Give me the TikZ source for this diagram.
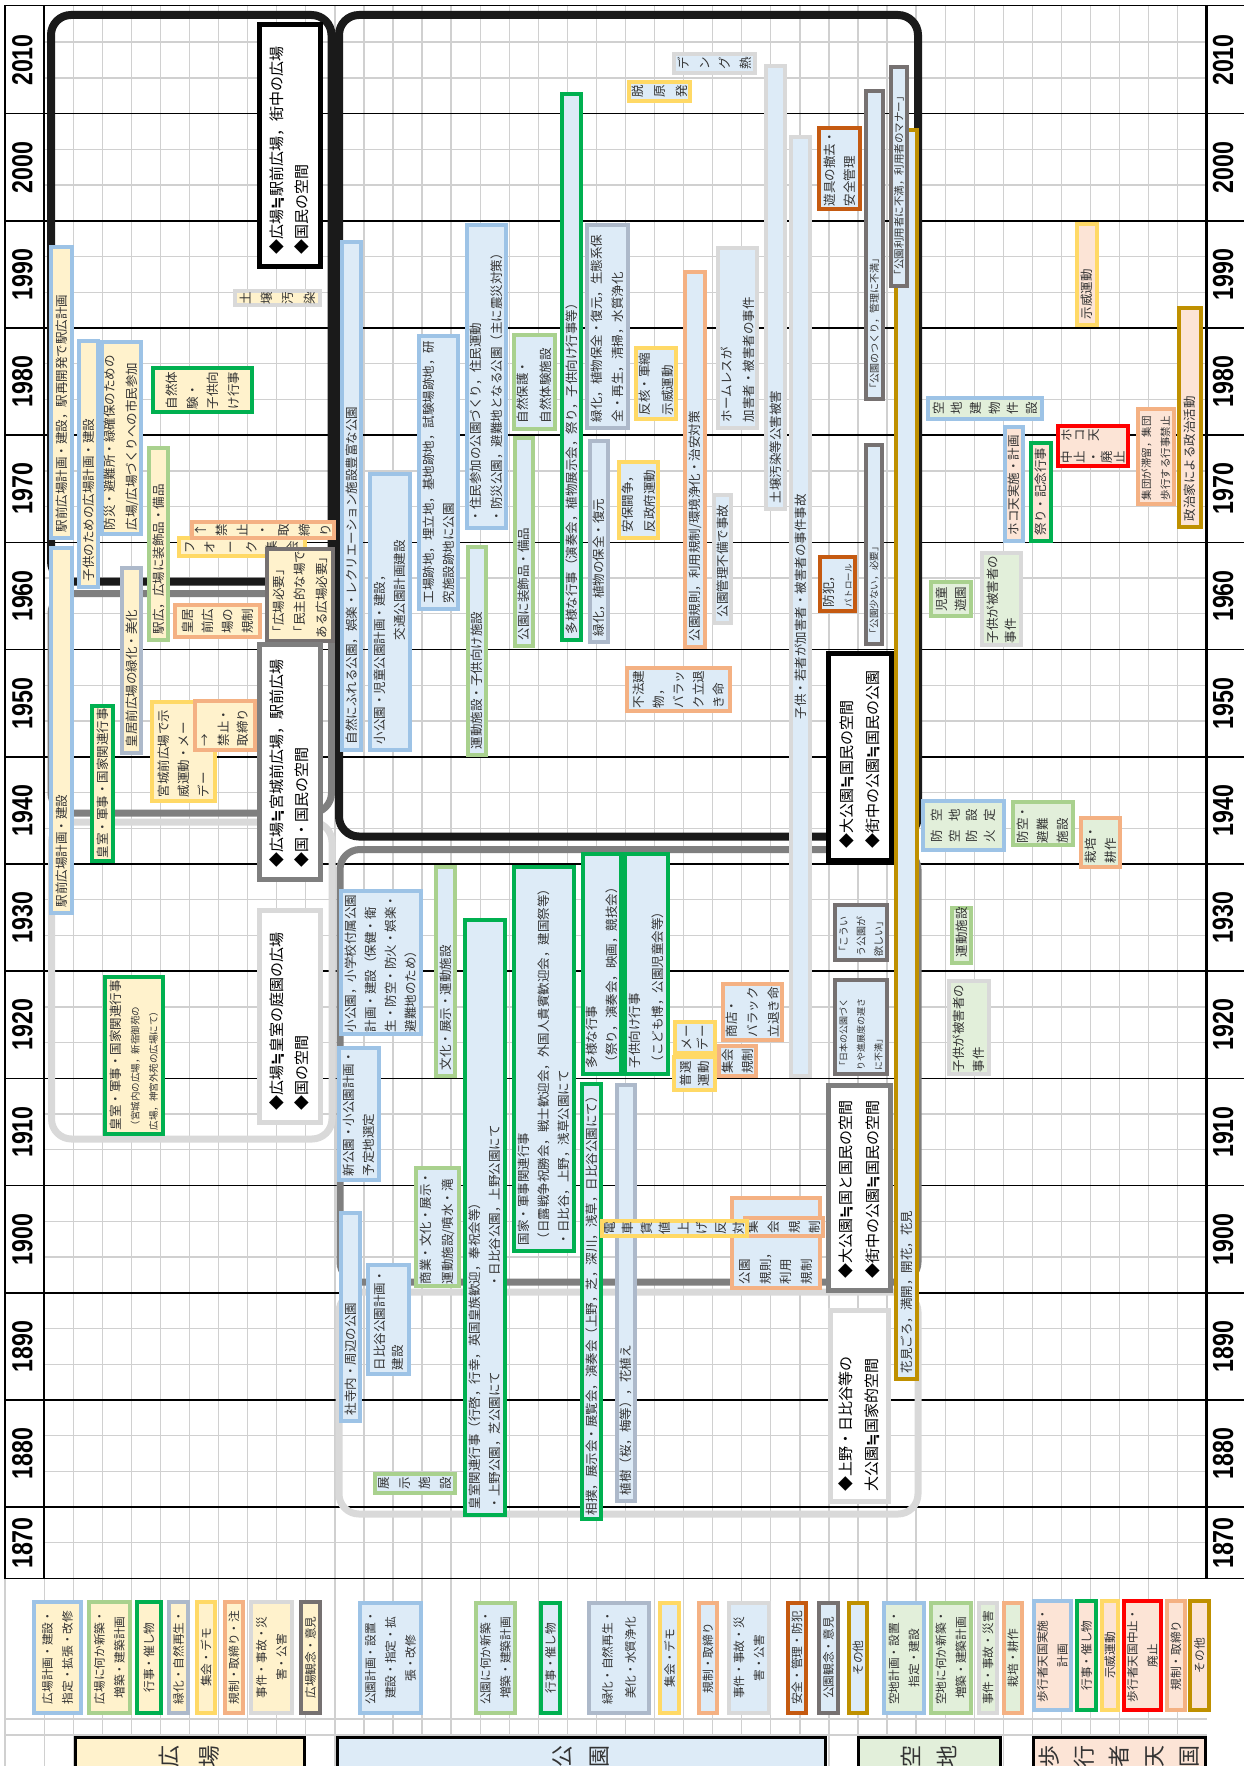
\documentclass[tikz,border=0pt]{standalone}
\usepackage{fontspec}
\setmainfont{Noto Sans CJK JP}
\newfontfamily\yrfont[FakeStretch=0.8]{Liberation Sans}
\newfontfamily\dvfont{DejaVu Sans}
\newcommand\apx{{\dvfont\bfseries ≒}}
\definecolor{txt}{HTML}{333333}
\definecolor{fillY}{HTML}{FFF2CC}
\definecolor{fillB}{HTML}{DDEBF7}
\definecolor{fillG}{HTML}{E2EFDA}
\definecolor{fillP}{HTML}{FCE4D6}
\definecolor{bPlan}{HTML}{9DC3E6}
\definecolor{bNew}{HTML}{A9D18E}
\definecolor{bEvt}{HTML}{00B050}
\definecolor{bGrn}{HTML}{ADB9CA}
\definecolor{bDemo}{HTML}{FFD966}
\definecolor{bReg}{HTML}{F4B183}
\definecolor{bInc}{HTML}{D9D9D9}
\definecolor{bOp}{HTML}{767171}
\definecolor{bSafe}{HTML}{C55A11}
\definecolor{bOth}{HTML}{BF9000}
\definecolor{bCan}{HTML}{FF0000}
\definecolor{colFrK}{HTML}{1A1A1A}
\definecolor{colFrD}{HTML}{7F7F7F}
\definecolor{colFrL}{HTML}{D9D9D9}
\definecolor{gridc}{HTML}{D0D0D0}
\tikzset{
  bxs/.style={draw, line width=4.5pt, inner ysep=1pt, text=txt, align=left, font=\fontsize{12.5}{21}\selectfont},
  ls/.style={font=\fontsize{12.5}{#1}\selectfont},
  fs/.style 2 args={font=\fontsize{#1}{#2}\selectfont},
  fY/.style={fill=fillY}, fB/.style={fill=fillB}, fG/.style={fill=fillG}, fP/.style={fill=fillP},
  cPlan/.style={draw=bPlan}, cNew/.style={draw=bNew}, cEvt/.style={draw=bEvt},
  cGrn/.style={draw=bGrn}, cDemo/.style={draw=bDemo}, cReg/.style={draw=bReg},
  cInc/.style={draw=bInc}, cOp/.style={draw=bOp}, cSafe/.style={draw=bSafe},
  cOth/.style={draw=bOth}, cCan/.style={draw=bCan},
  diaK/.style={draw=black, fill=white, line width=5pt, text=black, font=\fontsize{15}{25}\selectfont},
  diaD/.style={draw=colFrD, fill=white, line width=5pt, text=black, font=\fontsize{15}{25}\selectfont},
  diaL/.style={draw=colFrL, fill=white, line width=5pt, text=black, font=\fontsize{15}{25}\selectfont},
  hdr/.style={draw=black, line width=3pt, font=\fontsize{22}{40}\selectfont},
  leg/.style={font=\fontsize{11.7}{20}\selectfont},
  gridl/.style={draw=gridc, line width=1.3pt},
  decl/.style={draw=black, line width=1.5pt},
  frameK/.style={draw=colFrK, line width=8pt, rounded corners=20pt},
  frameD/.style={draw=colFrD, line width=7pt, rounded corners=20pt},
  frameL/.style={draw=colFrL, line width=7pt, rounded corners=20pt},
  yl/.style={rotate=90, inner sep=0pt, text=black, font=\yrfont\bfseries\fontsize{29}{29}\selectfont},
}
% #1 opts, #2 name, #3 x0, #4 y0, #5 x1, #6 y1, #7 style, #8 pad, #9 text
\newcommand\bxgen[9]{%
  \pgfmathsetmacro\bxW{#6-#4-4}%
  \pgfmathsetmacro\bxH{#5-#3-4}%
  \pgfmathsetmacro\bxT{#6-#4-4-2*#8}%
  \pgfmathsetmacro\bxX{(#3+#5)/2}%
  \pgfmathsetmacro\bxY{(#4+#6)/2}%
  \node[bxs,#7,rotate=90,inner xsep=#8pt,minimum width=\bxW pt,minimum height=\bxH pt,text width=\bxT pt,#1] (#2) at (\bxX,\bxY) {#9};}
\newcommand\bx[8][]{\bxgen{#1}{#2}{#3}{#4}{#5}{#6}{#7}{6}{#8}}
\newcommand\cbx[8][]{\bxgen{align=center,#1}{#2}{#3}{#4}{#5}{#6}{#7}{1}{#8}}
\begin{document}
\begin{tikzpicture}[x=1pt,y=-1pt]
\useasboundingbox (0,0) rectangle (1244,1766);
\clip (0,0) rectangle (1244,1766);
\fill[white] (0,0) rectangle (1244,1766);
% grid
\foreach \i in {1,...,39}{\draw[gridl] ({44.3+29.06*\i},5.4) -- ({44.3+29.06*\i},1766);}
\foreach \j in {1,...,43}{\draw[gridl] (44.3,{6.4+35.73*\j}) -- (1206.7,{6.4+35.73*\j});}
\draw[gridl] (5,1719) -- (1206.7,1719);
\draw[gridl] (5,1735) -- (1206.7,1735);
\draw[gridl] (5,1578.5) -- (5,1766);
\draw[gridl] (44.3,1578.5) -- (44.3,1766);
% decade lines
\foreach \k in {0,...,13}{\draw[decl] (5,{113.6+107.2*\k}) -- (1244,{113.6+107.2*\k});}
\draw[decl] (5,5.4) -- (1244,5.4);
\draw[decl] (5,1578.5) -- (1244,1578.5);
\draw[black,line width=1.8pt] (5,5.4) -- (5,1578.5);
\draw[black,line width=1.8pt] (44.3,5.4) -- (44.3,1578.5);
\draw[black,line width=2.6pt] (1206.7,5.4) -- (1206.7,1578.5);
% frames
\draw[frameK] (51,15) rectangle (331.5,581.5);
\draw[frameD] (51,593.5) rectangle (331.5,813);
\draw[frameL] (51.5,822) rectangle (332,1139);
\draw[frameK] (339,15) rectangle (918,836.5);
\draw[frameD] (340,849.5) rectangle (918,1282);
\draw[frameL] (339,1292) rectangle (918,1514);
% ===== 広場 =====
\bx{a1}{49}{245}{74}{540}{cPlan,fY}{駅前広場計画・建設，駅再開発で駅広計画}
\bx{a2}{49}{546}{74}{915}{cPlan,fY}{駅前広場計画・建設}
\bx{a3}{77}{339}{100}{589}{cPlan,fY}{子供のための広場計画・建設}
\bxgen{ls=21.7}{a4}{100}{340}{143}{536}{cPlan,fY}{4}{防災・避難所・緑確保のための\\広場/広場づくりへの市民参加}
\bx{a5}{147}{446}{170}{642}{cNew,fY}{駅広，広場に装飾品・備品}
\bxgen{ls=20.5}{a6}{151}{366}{254}{414}{cEvt,fY}{3}{自然体\\験・\\子供向\\け行事}
\cbx[ls=21.3]{a7}{233}{289}{322}{307}{cInc,fY}{土\\壌\\汚\\染}
\bxgen{}{a8}{257}{23}{322}{268}{diaK}{12}{◆広場\apx 駅前広場，街中の広場\\◆国民の空間}
\cbx[ls=20.6]{a10}{177}{536}{307}{558}{cDemo,fY}{フ\\オ\\ー\\ク\\集\\会}
\cbx[ls=20.8]{a9}{190}{520}{336}{540}{cReg,fY}{↑\\禁\\止\\・\\取\\締\\り}
\bxgen{ls=21.7}{a11}{265}{547}{335}{643}{cOp,fY}{3}{「広場必要」\\「民主的な場で\\ある広場必要」}
\bx{a12}{120}{566}{143}{755}{cGrn,fY}{皇居前広場の緑化・美化}
\cbx[ls=20]{a13}{173}{603}{262}{639}{cReg,fY}{皇居\\前広\\場の\\規制}
\bxgen{}{a14}{90}{704}{115}{863}{cEvt,fY}{3}{皇室・軍事・国家関連行事}
\bxgen{ls=20}{a15}{150}{700}{217}{803}{cDemo,fY}{4}{宮城前広場で示\\威運動・メー\\デー}
\bxgen{ls=19}{a16}{193}{699}{257}{752}{cReg,fY}{4}{→\\禁止・\\取締り}
\bxgen{}{a17}{257}{642}{322}{881}{diaD}{12}{◆広場\apx 宮城前広場，駅前広場\\◆国・国民の空間}
\bxgen{}{a18}{257}{908}{322}{1124}{diaL}{12}{◆広場\apx 皇室の庭園の広場\\◆国の空間}
\bxgen{ls=18.3}{a19}{103}{975}{165}{1136}{cEvt,fY}{4}{皇室・軍事・国家関連行事\\{\fontsize{9.5}{18.3}\selectfont （宮城内の広場，新宿御苑の}\\{\fontsize{9.5}{18.3}\selectfont 広場，神宮外苑の広場にて）}}
% ===== 公園 =====
\bx{b1}{340}{240}{363}{752}{cPlan,fB}{自然にふれる公園，娯楽・レクリエーション施設豊富な公園}
\bxgen{ls=20}{b2}{368}{472}{412}{752}{cPlan,fB}{6}{小公園・児童公園計画・建設，\\\hspace*{104pt}交通公園計画建設}
\bx[ls=20]{b3}{417}{334}{460}{611}{cPlan,fB}{工場跡地，埋立地，基地跡地，試験場跡地，研\\究施設跡地に公園}
\bx[ls=21.7]{b4}{465}{223}{508}{530}{cPlan,fB}{・住民参加の公園づくり，住民運動\\・防災公園，避難地となる公園（主に震災対策）}
\bx{b5}{513}{436}{535}{648}{cNew,fB}{公園に装飾品・備品}
\bx[ls=23.3]{b6}{512}{333}{557}{431}{cNew,fB}{自然保護・\\自然体験施設}
\bx{b7}{560}{92}{583}{642}{cEvt,fB}{多様な行事（演奏会，植物展示会，祭り，子供向け行事等）}
\bx[ls=21.7]{b8}{585}{223}{630}{430}{cGrn,fB}{緑化，植物保全・復元，生態系保\\全・再生，清掃，水質浄化}
\bx{b9}{588}{439}{610}{644}{cGrn,fB}{緑化，植物の保全・復元}
\bxgen{ls=23.3}{b10}{634}{346}{678}{421}{cDemo,fB}{4}{反核・軍縮\\示威運動}
\bx[ls=21.7]{b11}{617}{460}{660}{540}{cDemo,fB}{安保闘争，\\反政府運動}
\cbx[ls=22]{b12}{627}{80}{692}{103}{cDemo,fB}{脱\\原\\発}
\cbx[ls=20.5]{b13}{672}{52}{757}{75}{cInc,fB}{デ\\ン\\グ\\熱}
\bx{b14}{683}{270}{707}{649}{cReg,fB}{公園規則，利用規制/環境浄化・治安対策}
\bx[ls=21.7]{b15}{716}{246}{759}{430}{cInc,fB}{ホームレスが\\加害者・被害者の事件}
\bx{b16}{764}{64}{787}{511}{cInc,fB}{土壌汚染等公害被害}
\cbx{b17}{789}{135}{812}{1078}{cInc,fB}{子供・若者が加害者・被害者の事件事故}
\bxgen{ls=20}{b18}{817}{126}{862}{211}{cSafe,fB}{3}{遊具の撤去・\\安全管理}
\bx[fs={10}{17}]{b19}{864}{89}{885}{401}{cOp,fB}{「公園のつくり，管理に不満」}
\bx{b20}{894}{128}{919}{1381}{cOth,fB}{花見ごろ，満開，開花，花見}
\bx[fs={10.5}{17}]{b21}{889}{65}{909}{288}{cOp,fB}{「公園利用者に不満，利用者のマナー」}
\bx{b22}{712}{493}{733}{625}{cInc,fB}{公園管理不備で事故}
\bxgen{ls=18}{b23}{818}{555}{857}{613}{cSafe,fB}{4}{防犯，\\{\fontsize{8.5}{18}\selectfont パトロール}}
\bx[fs={9.6}{17}]{b24}{864}{443}{884}{646}{cOp,fB}{「公園少ない，必要」}
\bxgen{fs={15}{26}}{b25}{826}{651}{893}{862}{diaK}{12}{◆大公園\apx 国民の空間\\◆街中の公園\apx 国民の公園}
\bxgen{ls=20}{b26}{625}{666}{732}{713}{cReg,fB}{3}{不法建\\物，\\バラッ\\ク立退\\き命}
\bx{b27}{466}{545}{488}{757}{cNew,fB}{運動施設・子供向け施設}
\bxgen{ls=20}{b28}{339}{889}{423}{1036}{cPlan,fB}{2}{小公園，小学校付属公園\\計画・建設（保健・衛\\生・防空・防火・娯楽・\\避難地のため）}
\bx{b29}{434}{865}{457}{1078}{cNew,fB}{文化・展示・運動施設}
\bxgen{ls=20}{b30}{463}{918}{507}{1517}{cEvt,fB}{6}{皇室関連行事（行啓，行幸，英国皇族歓迎，奉祝会等）\\・上野公園，芝公園にて\hspace{84pt}・日比谷公園，上野公園にて}
\bx[ls=20.3]{b31}{512}{865}{576}{1253}{cEvt,fB}{国家・軍事関連行事\\（日露戦争祝勝会，戦士歓迎会，外国人貴賓歓迎会，建国祭等）\\・日比谷，上野，浅草公園にて}
\bx[ls=20]{b32}{581}{852}{623}{1076}{cEvt,fB}{多様な行事\\（祭り，演奏会，映画，競技会）}
\bx[ls=23.3]{b33}{623}{852}{670}{1076}{cEvt,fB}{子供向け行事\\（こども博，公園児童会等）}
\bxgen{}{b34}{580}{1082}{603}{1521}{cEvt,fB}{4}{相撲，展示会・展覧会，演奏会（上野，芝，深川，浅草，日比谷公園にて）}
\bx{b35}{615}{1083}{637}{1503}{cGrn,fB}{植樹（桜，梅等），花植え}
\cbx[ls=16.3]{b36}{673}{1020}{717}{1055}{cDemo,fB}{メー\\デー}
\cbx[ls=18]{b37}{672}{1055}{717}{1092}{cDemo,fB}{普選\\運動}
\bxgen{ls=20.8}{b38}{721}{982}{784}{1042}{cReg,fB}{3}{商店・\\バラック\\立退き命}
\cbx[ls=20]{b39}{717}{1044}{758}{1078}{cReg,fB}{集会\\規制}
\bxgen{fs={10}{17.5}}{b40}{833}{903}{889}{962}{cOp,fB}{4}{「こうい\\う公園が\\欲しい」}
\bxgen{fs={9}{17.5}}{b41}{833}{978}{889}{1076}{cOp,fB}{4}{「日本の公園づく\\りや進展度の遅さ\\に不満」}
\bxgen{fs={15}{26.7}}{b42}{826}{1083}{892}{1292}{diaD}{12}{◆大公園\apx 国と国民の空間\\◆街中の公園\apx 国民の空間}
\bxgen{fs={15}{26}}{b43}{828}{1308}{890}{1503}{diaL}{10}{◆上野・日比谷等の\\大公園\apx 国家的空間}
\bxgen{ls=20.5}{b44}{730}{1196}{822}{1290}{cReg,fB}{4}{公園\\規則，\\利用\\規制}
\cbx[ls=20.8]{b45}{743}{1216}{825}{1238}{cReg,fB}{集\\会\\規\\制}
\cbx[ls=18.5]{b46}{600}{1219}{749}{1238}{cDemo,fB}{電\\車\\賃\\値\\上\\げ\\反\\対}
\bxgen{ls=20}{b47}{337}{1046}{381}{1182}{cPlan,fB}{4}{新公園・小公園計画・\\予定地選定}
\bx{b48}{339}{1211}{362}{1423}{cPlan,fB}{社寺内・周辺の公園}
\bxgen{ls=18.4}{b49}{366}{1263}{411}{1376}{cPlan,fB}{4}{日比谷公園計画・\\建設}
\bxgen{ls=21.7}{b50}{414}{1166}{461}{1288}{cNew,fB}{2}{商業・文化・展示・\\運動施設/噴水・滝}
\cbx[ls=20.6]{b51}{373}{1472}{457}{1495}{cNew,fB}{展\\示\\施\\設}
% ===== 空地 =====
\cbx[ls=18.7]{c1}{926}{396}{1044}{421}{cPlan,fG}{空\\地\\建\\物\\件\\設}
\cbx[ls=18.7]{c2}{929}{580}{973}{618}{cNew,fG}{児童\\遊園}
\bxgen{ls=18.3}{c3}{980}{551}{1023}{647}{cInc,fG}{2}{子供が被害者の\\事件}
\cbx[ls=17.5]{c4}{921}{799}{1006}{852}{cPlan,fG}{防\hspace{9pt}空\\空\hspace{9pt}地\\防\hspace{9pt}設\\火\hspace{9pt}定}
\bxgen{ls=20}{c5}{1011}{800}{1075}{847}{cNew,fG}{2}{防空・\\避難\\施設}
\bxgen{ls=20}{c6}{1079}{816}{1122}{869}{cReg,fG}{4}{栽培・\\耕作}
\bx{c7}{950}{906}{973}{965}{cNew,fG}{運動施設}
\bxgen{ls=20}{c8}{947}{979}{991}{1076}{cInc,fG}{2}{子供が被害者の\\事件}
% ===== 歩行者天国 =====
\bx{d1}{1003}{425}{1025}{543}{cPlan,fP}{ホコ天実施・計画}
\bx{d2}{1029}{441}{1053}{543}{cEvt,fP}{祭り・記念行事}
\bxgen{fs={12.5}{13.3}}{d3}{1056}{424}{1130}{468}{cCan,fP}{3}{中\hspace{9pt}ホ\\止\hspace{9pt}コ\\・\hspace{9pt}天\\廃\\止}
\bxgen{fs={10.5}{19}}{d4}{1136}{407}{1176}{506}{cReg,fP}{4}{集団が滞留，集団\\歩行する行事禁止}
\bx{d5}{1177}{306}{1203}{529}{cOth,fP}{政治家による政治活動}
\bx{d6}{1075}{222}{1099}{327}{cDemo,fP}{示威運動}
% ===== legend =====
\cbx[leg]{L1}{32}{1600}{83}{1715}{cPlan,fY}{広場計画・建設・\\指定・拡張・改修}
\cbx[leg]{L2}{87}{1600}{132}{1715}{cNew,fY}{広場に何か新築・\\増築・建築計画}
\cbx[leg]{L3}{135}{1600}{163}{1715}{cEvt,fY}{行事・催し物}
\cbx[leg]{L4}{167}{1600}{190}{1715}{cGrn,fY}{緑化・自然再生・}
\cbx[leg]{L5}{195}{1600}{217}{1715}{cDemo,fY}{集会・デモ}
\cbx[leg]{L6}{223}{1600}{245}{1715}{cReg,fY}{規制・取締り・注}
\cbx[leg]{L7}{249}{1600}{294}{1715}{cInc,fY}{事件・事故・災\\害・公害}
\cbx[leg]{L8}{299}{1600}{322}{1715}{cOp,fY}{広場観念・意見}
\cbx[leg]{L9}{358}{1601}{423}{1715}{cPlan,fB}{公園計画・設置・\\建設・指定・拡\\張・改修}
\cbx[leg]{L10}{474}{1601}{517}{1715}{cNew,fB}{公園に何か新築・\\増築・建築計画}
\cbx[leg]{L11}{539}{1601}{562}{1715}{cEvt,fB}{行事・催し物}
\cbx[fs={11.7}{23}]{L12}{587}{1601}{651}{1715}{cGrn,fB}{緑化・自然再生・\\美化・水質浄化}
\cbx[leg]{L13}{658}{1601}{681}{1715}{cDemo,fB}{集会・デモ}
\cbx[leg]{L14}{697}{1601}{719}{1715}{cReg,fB}{規制・取締り}
\cbx[leg]{L15}{727}{1601}{771}{1715}{cInc,fB}{事件・事故・災\\害・公害}
\cbx[leg]{L16}{786}{1601}{808}{1715}{cSafe,fB}{安全・管理・防犯}
\cbx[leg]{L17}{817}{1601}{840}{1715}{cOp,fB}{公園観念・意見}
\cbx[leg]{L18}{847}{1601}{869}{1715}{cOth,fB}{その他}
\cbx[leg]{L19}{882}{1601}{926}{1715}{cPlan,fG}{空地計画・設置・\\指定・建設}
\cbx[leg]{L20}{929}{1601}{973}{1715}{cNew,fG}{空地に何か新築・\\増築・建築計画}
\cbx[leg]{L21}{977}{1601}{999}{1715}{cInc,fG}{事件・事故・災害}
\cbx[leg]{L22}{1002}{1601}{1024}{1715}{cReg,fG}{栽培・耕作}
\cbx[leg]{L23}{1032}{1599}{1073}{1712}{cPlan,fP}{歩行者天国実施・\\計画}
\cbx[leg]{L24}{1075}{1599}{1098}{1712}{cEvt,fP}{行事・催し物}
\cbx[leg]{L25}{1100}{1599}{1120}{1712}{cDemo,fP}{示威運動}
\cbx[leg]{L26}{1122}{1599}{1163}{1712}{cCan,fP}{歩行者天国中止・\\廃止}
\cbx[leg]{L27}{1165}{1599}{1187}{1712}{cReg,fP}{規制・取締り}
\cbx[leg]{L28}{1188}{1599}{1211}{1712}{cOth,fP}{その他}
% ===== headers =====
\cbx[hdr]{H1}{73}{1735}{306}{1777}{fY}{広\\場}
\cbx[hdr,fs={22}{36.7}]{H2}{335}{1735}{827}{1777}{fB}{公\\園}
\cbx[hdr,fs={22}{36.7}]{H3}{856}{1735}{1002}{1777}{fG}{空\\地}
\cbx[hdr,fs={22}{35}]{H4}{1031}{1735}{1207}{1777}{fP}{歩\\行\\者\\天\\国}
% ===== years =====
\foreach \k in {0,...,13}{
  \pgfmathtruncatemacro\yv{2010-10*\k}
  \pgfmathsetmacro\yc{60+107.2*\k}
  \node[yl] (yl\k) at (22.5,\yc) {\yv};
  \node[yl] (yr\k) at (1223,\yc) {\yv};
}
\node[yl] (yl14) at (22.5,1543) {1870};
\node[yl] (yr14) at (1223,1543) {1870};
\end{tikzpicture}
\end{document}
